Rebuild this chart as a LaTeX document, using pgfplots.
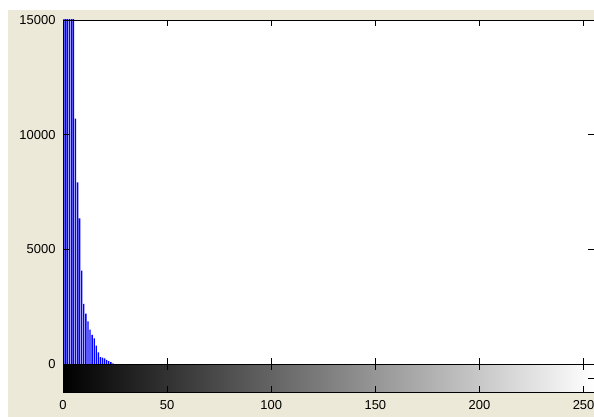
\documentclass[border=0pt]{standalone}
\usepackage{fontspec}
\setmainfont{Liberation Sans}
\usepackage{pgfplots}
\pgfplotsset{compat=1.18}
\definecolor{panel}{HTML}{ECE9D8}
\definecolor{matblue}{RGB}{0,0,255}

\begin{document}
\begin{tikzpicture}
\fill[white] (0bp,0bp) rectangle (594bp,417bp);
\fill[panel] (8bp,0bp) rectangle (594bp,407bp);
\pgfplotsset{
  every axis/.append style={
    scale only axis, width=531bp, anchor=south west,
    xmin=0, xmax=255, axis on top,
    axis line style={black, line width=0.9bp},
    major tick length=6bp,
    tick style={black, line width=0.8bp},
    ticklabel style={font=\fontsize{13}{13}\selectfont},
    /pgf/number format/assume math mode=true,
    /pgf/number format/1000 sep={},
  },
}
% grey colour bar under the histogram
\begin{axis}[at={(63bp,25bp)}, height=28bp, ymin=0, ymax=1,
  xtick={0,50,...,250}, ytick={0.5}, yticklabels={},
  xticklabel style={yshift=-5bp}]
\path[left color=black, right color=white] (axis cs:0,0) rectangle (axis cs:255,1);
\end{axis}
% histogram
\begin{axis}[at={(63bp,53bp)}, height=344bp, ymin=0, ymax=15000,
  xtick={0,50,...,250}, xticklabels={},
  ytick={0,5000,10000,15000}, scaled y ticks=false,
  axis background/.style={fill=white},
  yticklabel style={xshift=-4bp}]
\addplot[ybar, bar width=1.35bp, fill=matblue, draw=none, bar shift=0pt] coordinates {
  (0,28000) (1,26000) (2,24000) (3,21000) (4,18000) (5,16000)
  (6,10700) (7,7920) (8,6350) (9,4070) (10,2620) (11,2200)
  (12,1860) (13,1500) (14,1265) (15,1120) (16,800) (17,510)
  (18,305) (19,280) (20,250) (21,175) (22,130) (23,87) (24,30)
};
\end{axis}
\pgfresetboundingbox
\useasboundingbox (0bp,0bp) rectangle (594bp,417bp);
\end{tikzpicture}
\end{document}
